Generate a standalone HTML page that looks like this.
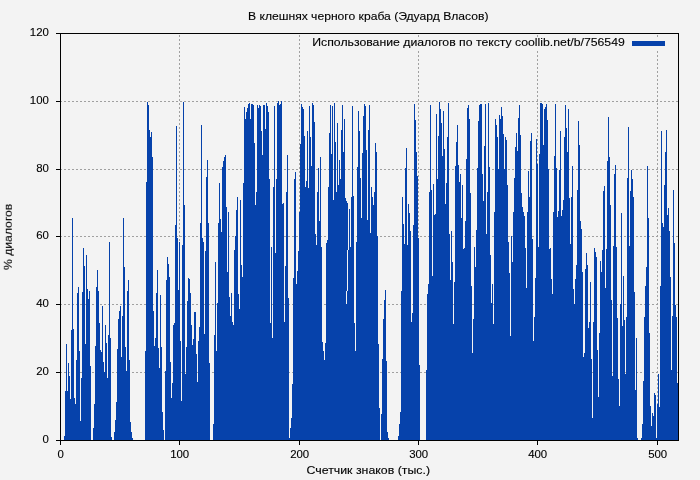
<!DOCTYPE html>
<html><head><meta charset="utf-8"><title>chart</title>
<style>
html,body{margin:0;padding:0;background:#f3f3f3;}
body{width:700px;height:480px;overflow:hidden;position:relative;font-family:"Liberation Sans",sans-serif;}
svg{position:absolute;left:0;top:0;}
text{font-family:"Liberation Sans",sans-serif;font-size:10.5px;fill:#000;stroke:#000;stroke-width:0.12px;}
</style></head><body>
<svg width="700" height="480" viewBox="0 0 700 480">
<rect x="0" y="0" width="700" height="480" fill="#f3f3f3"/>
<g stroke="#a0a0a0" stroke-width="1" stroke-dasharray="2,2" shape-rendering="crispEdges" fill="none">
<path d="M60,372.5H678M60,304.5H678M60,236.5H678M60,169.5H678M60,101.5H678"/>
<path d="M179.5,441V33M299.5,441V33M418.5,441V33M537.5,441V33M657.5,441V33"/>
</g>
<rect x="309" y="38.5" width="363" height="12.5" fill="#f3f3f3"/>
<path d="M64,440V436h1V440zM65,440V391h1V440zM66,440V344h1V440zM67,440V391h1V440zM68,440V363h1V440zM69,440V376h1V440zM70,440V399h1V440zM71,440V330h1V440zM72,440V218h1V440zM73,440V329h1V440zM74,440V398h1V440zM75,440V404h1V440zM76,440V360h1V440zM77,440V293h1V440zM78,440V287h1V440zM79,440V351h1V440zM80,440V421h1V440zM81,440V378h1V440zM82,440V292h1V440zM83,440V248h1V440zM84,440V266h1V440zM85,440V344h1V440zM86,440V255h1V440zM87,440V289h1V440zM88,440V299h1V440zM89,440V291h1V440zM90,440V366h1V440zM93,440V428h1V440zM94,440V404h1V440zM95,440V346h1V440zM96,440V287h1V440zM97,440V270h1V440zM98,440V291h1V440zM99,440V323h1V440zM100,440V350h1V440zM101,440V352h1V440zM102,440V306h1V440zM103,440V362h1V440zM104,440V372h1V440zM105,440V325h1V440zM106,440V343h1V440zM107,440V378h1V440zM108,440V335h1V440zM109,440V242h1V440zM110,440V338h1V440zM111,440V437h1V440zM114,440V432h1V440zM115,440V420h1V440zM116,440V402h1V440zM117,440V349h1V440zM118,440V319h1V440zM119,440V311h1V440zM120,440V306h1V440zM121,440V357h1V440zM122,440V316h1V440zM123,440V218h1V440zM124,440V267h1V440zM125,440V347h1V440zM126,440V371h1V440zM127,440V291h1V440zM128,440V280h1V440zM129,440V360h1V440zM130,440V422h1V440zM131,440V432h1V440zM132,440V438h1V440zM145,440V351h1V440zM146,440V182h1V440zM147,440V102h1V440zM148,440V105h1V440zM149,440V130h1V440zM150,440V137h1V440zM151,440V132h1V440zM152,440V157h1V440zM153,440V311h1V440zM154,440V346h1V440zM155,440V338h1V440zM156,440V293h1V440zM157,440V270h1V440zM158,440V348h1V440zM159,440V368h1V440zM160,440V295h1V440zM161,440V347h1V440zM162,440V412h1V440zM163,440V430h1V440zM165,440V371h1V440zM166,440V280h1V440zM167,440V257h1V440zM168,440V264h1V440zM169,440V277h1V440zM170,440V362h1V440zM171,440V398h1V440zM172,440V383h1V440zM173,440V325h1V440zM174,440V323h1V440zM175,440V225h1V440zM176,440V126h1V440zM177,440V238h1V440zM178,440V290h1V440zM179,440V242h1V440zM180,440V341h1V440zM181,440V401h1V440zM182,440V245h1V440zM183,440V102h1V440zM184,440V205h1V440zM185,440V374h1V440zM186,440V347h1V440zM187,440V301h1V440zM188,440V278h1V440zM189,440V279h1V440zM190,440V293h1V440zM191,440V325h1V440zM192,440V345h1V440zM193,440V339h1V440zM194,440V312h1V440zM195,440V312h1V440zM196,440V354h1V440zM197,440V382h1V440zM198,440V341h1V440zM199,440V327h1V440zM200,440V223h1V440zM201,440V125h1V440zM202,440V238h1V440zM203,440V242h1V440zM204,440V334h1V440zM205,440V251h1V440zM206,440V177h1V440zM207,440V160h1V440zM208,440V223h1V440zM209,440V363h1V440zM213,440V424h1V440zM214,440V335h1V440zM215,440V262h1V440zM216,440V351h1V440zM217,440V303h1V440zM218,440V223h1V440zM219,440V183h1V440zM220,440V219h1V440zM221,440V232h1V440zM222,440V167h1V440zM223,440V161h1V440zM224,440V157h1V440zM225,440V155h1V440zM226,440V207h1V440zM227,440V272h1V440zM228,440V212h1V440zM229,440V297h1V440zM230,440V316h1V440zM231,440V293h1V440zM232,440V322h1V440zM233,440V325h1V440zM234,440V250h1V440zM235,440V236h1V440zM236,440V210h1V440zM237,440V197h1V440zM238,440V294h1V440zM239,440V309h1V440zM240,440V200h1V440zM241,440V265h1V440zM242,440V277h1V440zM243,440V183h1V440zM244,440V107h1V440zM245,440V119h1V440zM246,440V112h1V440zM247,440V108h1V440zM248,440V104h1V440zM249,440V103h1V440zM250,440V119h1V440zM251,440V104h1V440zM252,440V104h1V440zM253,440V105h1V440zM254,440V143h1V440zM255,440V205h1V440zM256,440V192h1V440zM257,440V105h1V440zM258,440V108h1V440zM259,440V105h1V440zM260,440V106h1V440zM261,440V131h1V440zM262,440V155h1V440zM263,440V105h1V440zM264,440V105h1V440zM265,440V129h1V440zM266,440V103h1V440zM267,440V106h1V440zM268,440V112h1V440zM269,440V179h1V440zM270,440V323h1V440zM271,440V247h1V440zM272,440V338h1V440zM273,440V187h1V440zM274,440V106h1V440zM275,440V253h1V440zM276,440V179h1V440zM277,440V103h1V440zM278,440V101h1V440zM279,440V105h1V440zM280,440V104h1V440zM281,440V101h1V440zM282,440V204h1V440zM283,440V203h1V440zM284,440V322h1V440zM285,440V266h1V440zM286,440V192h1V440zM287,440V155h1V440zM288,440V298h1V440zM289,440V438h1V440zM290,440V428h1V440zM291,440V418h1V440zM292,440V384h1V440zM293,440V278h1V440zM294,440V179h1V440zM295,440V172h1V440zM296,440V284h1V440zM297,440V271h1V440zM298,440V251h1V440zM299,440V212h1V440zM300,440V144h1V440zM301,440V104h1V440zM302,440V107h1V440zM303,440V109h1V440zM304,440V136h1V440zM305,440V187h1V440zM306,440V181h1V440zM307,440V131h1V440zM308,440V188h1V440zM309,440V106h1V440zM310,440V137h1V440zM311,440V166h1V440zM312,440V103h1V440zM313,440V105h1V440zM314,440V122h1V440zM315,440V234h1V440zM316,440V245h1V440zM317,440V192h1V440zM318,440V168h1V440zM319,440V221h1V440zM320,440V157h1V440zM321,440V247h1V440zM322,440V342h1V440zM323,440V351h1V440zM324,440V360h1V440zM325,440V343h1V440zM326,440V243h1V440zM327,440V240h1V440zM328,440V187h1V440zM329,440V133h1V440zM330,440V105h1V440zM331,440V154h1V440zM332,440V106h1V440zM333,440V200h1V440zM334,440V103h1V440zM335,440V142h1V440zM336,440V192h1V440zM337,440V123h1V440zM338,440V185h1V440zM339,440V160h1V440zM340,440V179h1V440zM341,440V130h1V440zM342,440V105h1V440zM343,440V152h1V440zM344,440V119h1V440zM345,440V198h1V440zM346,440V201h1V440zM347,440V203h1V440zM348,440V228h1V440zM349,440V201h1V440zM350,440V247h1V440zM351,440V197h1V440zM352,440V106h1V440zM353,440V196h1V440zM354,440V323h1V440zM355,440V351h1V440zM356,440V242h1V440zM357,440V167h1V440zM358,440V111h1V440zM359,440V131h1V440zM360,440V178h1V440zM361,440V218h1V440zM362,440V153h1V440zM363,440V116h1V440zM364,440V104h1V440zM365,440V106h1V440zM366,440V150h1V440zM367,440V220h1V440zM368,440V130h1V440zM369,440V105h1V440zM370,440V233h1V440zM371,440V187h1V440zM372,440V197h1V440zM373,440V205h1V440zM374,440V192h1V440zM375,440V143h1V440zM376,440V152h1V440zM377,440V236h1V440zM378,440V344h1V440zM379,440V408h1V440zM381,440V414h1V440zM382,440V359h1V440zM383,440V319h1V440zM384,440V300h1V440zM385,440V290h1V440zM386,440V361h1V440zM387,440V432h1V440zM388,440V438h1V440zM398,440V436h1V440zM399,440V424h1V440zM400,440V412h1V440zM401,440V291h1V440zM402,440V197h1V440zM403,440V224h1V440zM404,440V244h1V440zM405,440V168h1V440zM406,440V148h1V440zM407,440V245h1V440zM408,440V204h1V440zM409,440V213h1V440zM410,440V231h1V440zM411,440V322h1V440zM412,440V313h1V440zM413,440V225h1V440zM414,440V104h1V440zM415,440V120h1V440zM416,440V152h1V440zM417,440V176h1V440zM418,440V238h1V440zM419,440V365h1V440zM426,440V370h1V440zM427,440V294h1V440zM428,440V284h1V440zM429,440V192h1V440zM430,440V105h1V440zM431,440V190h1V440zM432,440V276h1V440zM433,440V184h1V440zM434,440V215h1V440zM435,440V214h1V440zM436,440V114h1V440zM437,440V179h1V440zM438,440V136h1V440zM439,440V102h1V440zM440,440V109h1V440zM441,440V123h1V440zM442,440V156h1V440zM443,440V111h1V440zM444,440V149h1V440zM445,440V204h1V440zM446,440V183h1V440zM447,440V137h1V440zM448,440V103h1V440zM449,440V234h1V440zM450,440V280h1V440zM451,440V231h1V440zM452,440V262h1V440zM453,440V324h1V440zM454,440V282h1V440zM455,440V166h1V440zM456,440V142h1V440zM457,440V125h1V440zM458,440V165h1V440zM459,440V182h1V440zM460,440V174h1V440zM461,440V218h1V440zM462,440V185h1V440zM463,440V249h1V440zM464,440V248h1V440zM465,440V221h1V440zM466,440V159h1V440zM467,440V108h1V440zM468,440V105h1V440zM469,440V119h1V440zM470,440V193h1V440zM471,440V286h1V440zM472,440V353h1V440zM473,440V319h1V440zM474,440V247h1V440zM475,440V267h1V440zM476,440V230h1V440zM477,440V168h1V440zM478,440V121h1V440zM479,440V105h1V440zM480,440V104h1V440zM481,440V104h1V440zM482,440V174h1V440zM483,440V201h1V440zM484,440V146h1V440zM485,440V104h1V440zM486,440V234h1V440zM487,440V192h1V440zM488,440V103h1V440zM489,440V167h1V440zM490,440V255h1V440zM491,440V303h1V440zM492,440V284h1V440zM493,440V324h1V440zM494,440V212h1V440zM495,440V119h1V440zM496,440V125h1V440zM497,440V137h1V440zM498,440V169h1V440zM499,440V115h1V440zM500,440V119h1V440zM501,440V107h1V440zM502,440V116h1V440zM503,440V134h1V440zM504,440V169h1V440zM505,440V137h1V440zM506,440V140h1V440zM507,440V185h1V440zM508,440V242h1V440zM509,440V273h1V440zM510,440V336h1V440zM511,440V236h1V440zM512,440V262h1V440zM513,440V212h1V440zM514,440V178h1V440zM515,440V147h1V440zM516,440V133h1V440zM517,440V151h1V440zM518,440V118h1V440zM519,440V105h1V440zM520,440V135h1V440zM521,440V193h1V440zM522,440V207h1V440zM523,440V212h1V440zM524,440V216h1V440zM525,440V248h1V440zM526,440V288h1V440zM527,440V212h1V440zM528,440V171h1V440zM529,440V197h1V440zM530,440V141h1V440zM531,440V133h1V440zM532,440V239h1V440zM533,440V341h1V440zM534,440V317h1V440zM535,440V278h1V440zM536,440V139h1V440zM537,440V164h1V440zM538,440V247h1V440zM539,440V154h1V440zM540,440V103h1V440zM541,440V103h1V440zM542,440V104h1V440zM543,440V145h1V440zM544,440V109h1V440zM545,440V107h1V440zM546,440V104h1V440zM547,440V120h1V440zM548,440V169h1V440zM549,440V249h1V440zM550,440V248h1V440zM551,440V279h1V440zM552,440V294h1V440zM553,440V212h1V440zM554,440V156h1V440zM555,440V104h1V440zM556,440V168h1V440zM557,440V217h1V440zM558,440V211h1V440zM559,440V170h1V440zM560,440V131h1V440zM561,440V216h1V440zM562,440V210h1V440zM563,440V200h1V440zM564,440V137h1V440zM565,440V105h1V440zM566,440V128h1V440zM567,440V152h1V440zM568,440V109h1V440zM569,440V198h1V440zM570,440V244h1V440zM571,440V197h1V440zM572,440V166h1V440zM573,440V289h1V440zM574,440V304h1V440zM575,440V279h1V440zM576,440V265h1V440zM577,440V190h1V440zM578,440V121h1V440zM579,440V145h1V440zM580,440V221h1V440zM581,440V229h1V440zM582,440V272h1V440zM583,440V357h1V440zM584,440V353h1V440zM585,440V269h1V440zM586,440V253h1V440zM587,440V265h1V440zM588,440V328h1V440zM589,440V322h1V440zM590,440V282h1V440zM591,440V359h1V440zM592,440V418h1V440zM593,440V322h1V440zM594,440V248h1V440zM595,440V252h1V440zM596,440V257h1V440zM597,440V350h1V440zM598,440V397h1V440zM599,440V333h1V440zM600,440V261h1V440zM601,440V272h1V440zM602,440V250h1V440zM603,440V191h1V440zM604,440V186h1V440zM605,440V288h1V440zM606,440V249h1V440zM607,440V161h1V440zM608,440V117h1V440zM609,440V157h1V440zM610,440V205h1V440zM611,440V300h1V440zM612,440V376h1V440zM613,440V246h1V440zM614,440V174h1V440zM615,440V165h1V440zM616,440V247h1V440zM617,440V318h1V440zM618,440V379h1V440zM619,440V406h1V440zM620,440V304h1V440zM621,440V213h1V440zM622,440V326h1V440zM623,440V276h1V440zM624,440V320h1V440zM625,440V374h1V440zM626,440V317h1V440zM627,440V178h1V440zM628,440V127h1V440zM629,440V246h1V440zM630,440V191h1V440zM631,440V170h1V440zM632,440V179h1V440zM633,440V197h1V440zM634,440V292h1V440zM635,440V390h1V440zM636,440V338h1V440zM637,440V438h1V440zM641,440V438h1V440zM642,440V424h1V440zM643,440V381h1V440zM644,440V317h1V440zM645,440V286h1V440zM646,440V267h1V440zM647,440V166h1V440zM648,440V218h1V440zM649,440V333h1V440zM650,440V406h1V440zM651,440V426h1V440zM652,440V413h1V440zM653,440V416h1V440zM654,440V393h1V440zM655,440V395h1V440zM656,440V438h1V440zM657,440V404h1V440zM658,440V374h1V440zM659,440V407h1V440zM660,440V286h1V440zM661,440V131h1V440zM662,440V223h1V440zM663,440V227h1V440zM664,440V185h1V440zM665,440V152h1V440zM666,440V130h1V440zM667,440V215h1V440zM668,440V208h1V440zM669,440V231h1V440zM670,440V277h1V440zM671,440V370h1V440zM672,440V316h1V440zM673,440V190h1V440zM674,440V243h1V440zM675,440V305h1V440zM676,440V317h1V440zM677,440V383h1V440z" fill="#0642ab" shape-rendering="crispEdges"/>
<path d="M349.2,201L346.7,304" stroke="#f3f3f3" stroke-width="1" shape-rendering="crispEdges" fill="none"/>
<g stroke="#000" stroke-width="1" shape-rendering="crispEdges" fill="none">
<rect x="60.5" y="33.5" width="618" height="407"/>
<path d="M56,440.5H60M56,372.5H60M56,304.5H60M56,236.5H60M56,169.5H60M56,101.5H60M56,33.5H60"/>
<path d="M60.5,441V445M179.5,441V445M299.5,441V445M418.5,441V445M537.5,441V445M657.5,441V445"/>
</g>
<g opacity="0.999">
<text x="42.54" y="443.1" text-anchor="start" textLength="6.36" lengthAdjust="spacingAndGlyphs">0</text>
<text x="36.18" y="375.1" text-anchor="start" textLength="12.72" lengthAdjust="spacingAndGlyphs">20</text>
<text x="36.18" y="307.1" text-anchor="start" textLength="12.72" lengthAdjust="spacingAndGlyphs">40</text>
<text x="36.18" y="239.1" text-anchor="start" textLength="12.72" lengthAdjust="spacingAndGlyphs">60</text>
<text x="36.18" y="172.1" text-anchor="start" textLength="12.72" lengthAdjust="spacingAndGlyphs">80</text>
<text x="29.82" y="104.1" text-anchor="start" textLength="19.08" lengthAdjust="spacingAndGlyphs">100</text>
<text x="29.82" y="36.1" text-anchor="start" textLength="19.08" lengthAdjust="spacingAndGlyphs">120</text>
<text x="57.52" y="458" text-anchor="start" textLength="6.36" lengthAdjust="spacingAndGlyphs">0</text>
<text x="170.16" y="458" text-anchor="start" textLength="19.08" lengthAdjust="spacingAndGlyphs">100</text>
<text x="290.16" y="458" text-anchor="start" textLength="19.08" lengthAdjust="spacingAndGlyphs">200</text>
<text x="409.16" y="458" text-anchor="start" textLength="19.08" lengthAdjust="spacingAndGlyphs">300</text>
<text x="528.16" y="458" text-anchor="start" textLength="19.08" lengthAdjust="spacingAndGlyphs">400</text>
<text x="648.16" y="458" text-anchor="start" textLength="19.08" lengthAdjust="spacingAndGlyphs">500</text>
<text x="248" y="20" text-anchor="start" textLength="240.5" lengthAdjust="spacingAndGlyphs">В клешнях черного краба (Эдуард Власов)</text>
<text x="306.5" y="474" text-anchor="start" textLength="123.5" lengthAdjust="spacingAndGlyphs">Счетчик знаков (тыс.)</text>
<text x="312.3" y="46" text-anchor="start" textLength="312.5" lengthAdjust="spacingAndGlyphs">Использование диалогов по тексту coollib.net/b/756549</text>
<text transform="translate(11.8,270) rotate(-90)" textLength="66.3" lengthAdjust="spacingAndGlyphs">% диалогов</text>
</g>
<rect x="632" y="41" width="33" height="5" fill="#0642ab" shape-rendering="crispEdges"/>
</svg>
</body></html>
